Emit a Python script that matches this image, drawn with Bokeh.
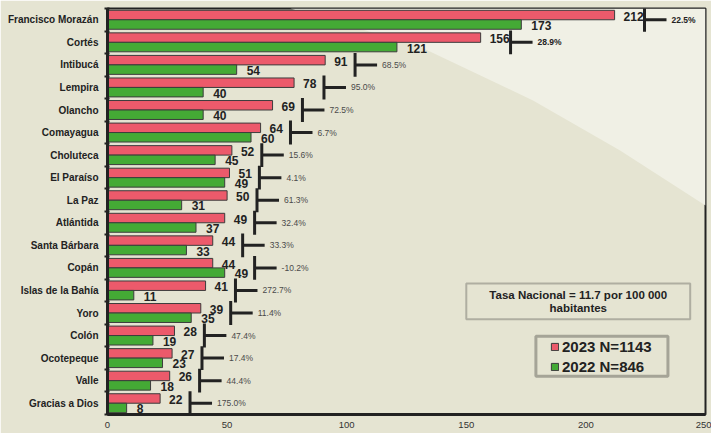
from bokeh.plotting import figure
from bokeh.models import (Range1d, FixedTicker, ColumnDataSource, Legend, LegendItem,
                          BoxAnnotation, Label, PolyAnnotation)
from bokeh.embed import file_html
from bokeh.resources import INLINE
from bokeh.core.properties import value

# ---------------- data ----------------
departments = ["Francisco Morazán", "Cortés", "Intibucá", "Lempira", "Olancho",
               "Comayagua", "Choluteca", "El Paraíso", "La Paz", "Atlántida",
               "Santa Bárbara", "Copán", "Islas de la Bahía", "Yoro", "Colón",
               "Ocotepeque", "Valle", "Gracias a Dios"]
cases_2023 = [212, 156, 91, 78, 69, 64, 52, 51, 50, 49, 44, 44, 41, 39, 28, 27, 26, 22]
cases_2022 = [173, 121, 54, 40, 40, 60, 45, 49, 31, 37, 33, 49, 11, 35, 19, 23, 18, 8]
pct_change = ["22.5%", "28.9%", "68.5%", "95.0%", "72.5%", "6.7%", "15.6%", "4.1%",
              "61.3%", "32.4%", "33.3%", "-10.2%", "272.7%", "11.4%", "47.4%",
              "17.4%", "44.4%", "175.0%"]
x_ticks = [0, 50, 100, 150, 200, 250]
legend_labels = ["2023 N=1143", "2022 N=846"]
note_lines = ["Tasa Nacional = 11.7 por 100 000", "habitantes"]

# ---------------- styles ----------------
BG = "#E5E4D2"
LIGHT = "#F0F0E5"
RED = "#EC5A6B"
GREEN = "#44AA35"
DARK = "#222222"
FONT = "Liberation Sans"

n = len(departments)
yc = [n - 1 - i for i in range(n)]
bar_h = 0.42
y_red = [y + 0.21 for y in yc]
y_green = [y - 0.21 for y in yc]
bx = [max(a, b) + 12.5 for a, b in zip(cases_2023, cases_2022)]
bx_end = [b + 9.2 for b in bx]
pct_style = ["bold" if i < 2 else "normal" for i in range(n)]
pct_color = [DARK if i < 2 else "#4a4a4a" for i in range(n)]

src = ColumnDataSource(dict(
    yc=yc, y_red=y_red, y_green=y_green, v23=cases_2023, v22=cases_2022,
    t23=[str(v) for v in cases_2023], t22=[str(v) for v in cases_2022],
    bx=bx, bx_end=bx_end, y_lo=[y - 0.53 for y in yc], y_hi=[y + 0.53 for y in yc],
    pct=pct_change, pct_style=pct_style, pct_color=pct_color,
))

p = figure(width=711, height=433, x_range=Range1d(0, 250), y_range=Range1d(-0.5, n - 0.5),
           output_backend="svg", toolbar_location=None,
           min_border_left=107, min_border_right=6, min_border_top=8, min_border_bottom=19,
           background_fill_color=BG, border_fill_color=BG,
           outline_line_color=DARK, outline_line_width=2)
p.xgrid.visible = False
p.ygrid.visible = False

# lighter swoosh in the background
p.add_layout(PolyAnnotation(
    xs=[76.4, 129.5, 177.9, 214.3, 250, 250],
    ys=[17.5, 15.86, 13.42, 11.2, 8.77, 17.5],
    fill_color=LIGHT, fill_alpha=1, line_color=None, level="underlay"))

r_red = p.hbar(y="y_red", left=0, right="v23", height=bar_h, source=src,
               fill_color=RED, line_color="#3c3c3c", line_width=1)
r_green = p.hbar(y="y_green", left=0, right="v22", height=bar_h, source=src,
                 fill_color=GREEN, line_color="#3c3c3c", line_width=1)

p.text(x="v23", y="y_red", text="t23", source=src, x_offset=9, y_offset=1,
       text_baseline="middle", text_align="left", text_font=value(FONT),
       text_font_style="bold", text_font_size="12px", text_color=DARK)
p.text(x="v22", y="y_green", text="t22", source=src, x_offset=10, y_offset=1,
       text_baseline="middle", text_align="left", text_font=value(FONT),
       text_font_style="bold", text_font_size="12px", text_color=DARK)

# brackets
p.segment(x0="bx", y0="y_lo", x1="bx", y1="y_hi", source=src,
          line_width=3, line_color=DARK)
p.segment(x0="bx", y0="yc", x1="bx_end", y1="yc", source=src,
          line_width=3, line_color=DARK)
p.text(x="bx_end", y="yc", text="pct", source=src, x_offset=5,
       text_baseline="middle", text_align="left", text_font=value(FONT),
       text_font_style="pct_style", text_font_size="8.5px", text_color="pct_color")

# axes
p.xaxis.ticker = FixedTicker(ticks=x_ticks)
p.xaxis.major_tick_line_color = None
p.xaxis.minor_tick_line_color = None
p.xaxis.major_tick_out = 0
p.xaxis.axis_line_width = 3
p.xaxis.axis_line_color = DARK
p.xaxis.major_label_standoff = 7
p.xaxis.major_label_text_font = FONT
p.xaxis.major_label_text_font_size = "9.5px"
p.xaxis.major_label_text_color = "#333333"

p.yaxis.ticker = FixedTicker(ticks=yc, minor_ticks=[k - 0.5 for k in range(n + 1)])
p.yaxis.major_label_overrides = {int(y): d for y, d in zip(yc, departments)}
p.yaxis.major_tick_line_color = None
p.yaxis.major_tick_out = 0
p.yaxis.major_tick_in = 0
p.yaxis.minor_tick_in = 2
p.yaxis.minor_tick_out = 3
p.yaxis.minor_tick_line_width = 2
p.yaxis.minor_tick_line_color = DARK
p.yaxis.axis_line_width = 3
p.yaxis.axis_line_color = DARK
p.yaxis.major_label_standoff = 6
p.yaxis.major_label_text_font = FONT
p.yaxis.major_label_text_font_style = "bold"
p.yaxis.major_label_text_font_size = "10px"
p.yaxis.major_label_text_color = DARK

# national rate note
p.add_layout(BoxAnnotation(left=150.0, right=243.6, top=5.31, bottom=3.72,
                           fill_color=BG, fill_alpha=1, line_color="#333333", line_width=2))
p.add_layout(Label(x=196.8, y=4.80, text=note_lines[0], text_align="center",
                   text_baseline="middle", text_font=FONT, text_font_style="bold",
                   text_font_size="11.5px", text_color=DARK))
p.add_layout(Label(x=196.8, y=4.22, text=note_lines[1], text_align="center",
                   text_baseline="middle", text_font=FONT, text_font_style="bold",
                   text_font_size="11.5px", text_color=DARK))

# legend
p.add_layout(BoxAnnotation(left=179.1, right=234.3, top=2.97, bottom=1.20,
                           fill_color=BG, fill_alpha=1, line_color="#111111", line_width=3))
legend = Legend(items=[LegendItem(label=legend_labels[0], renderers=[r_red]),
                       LegendItem(label=legend_labels[1], renderers=[r_green])],
                location=(443, 38), padding=0, margin=0, spacing=1,
                glyph_width=9, glyph_height=9, label_standoff=3, label_height=19,
                label_text_font=FONT, label_text_font_size="15px",
                label_text_font_style="bold", label_text_color=DARK,
                border_line_alpha=0, background_fill_alpha=0)
p.add_layout(legend)

open("out.html", "w").write(file_html(p, INLINE))
